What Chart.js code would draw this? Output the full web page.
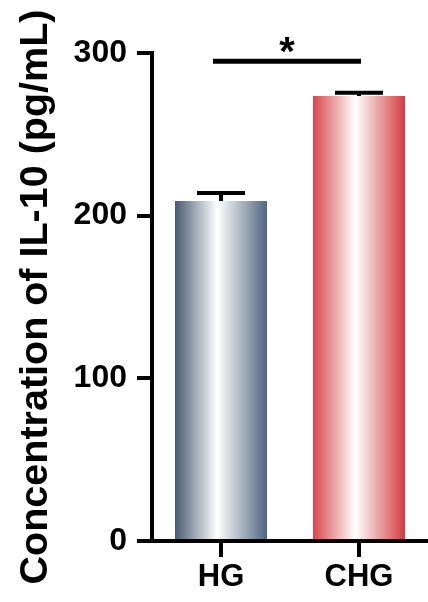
<!DOCTYPE html>
<html>
<head>
<meta charset="utf-8">
<script src="https://cdn.jsdelivr.net/npm/chart.js@4/dist/chart.umd.min.js"></script>
<style>
  body { margin: 0; background: #fff; }
</style>
</head>
<body>
<canvas id="il10" width="428" height="602"></canvas>
<script>
const groups = ['HG', 'CHG'];
const means = [209, 273.5];
const errors = [5, 2];
const yTicks = [0, 100, 200, 300];
const sigLevel = [295];

// couleurs des bords de chaque barre (le centre passe au blanc)
const edgeColors = [['#475a72', '#50667f'], ['#d8464a', '#d23c40']];
const barPct = 0.667;

function barGradient(ctx) {
    const chart = ctx.chart;
    if (!chart.chartArea) return edgeColors[ctx.dataIndex][0];
    const xs = chart.scales.x;
    const w = xs.width / groups.length * barPct;
    const cx = xs.getPixelForValue(ctx.dataIndex);
    const g = chart.ctx.createLinearGradient(cx - w / 2, 0, cx + w / 2, 0);
    const [c0, c1] = edgeColors[ctx.dataIndex];
    g.addColorStop(0, c0);
    g.addColorStop(0.46, '#ffffff');
    g.addColorStop(1, c1);
    return g;
}

// barres d'erreur + trait de significativité
const extras = {
    id: 'extras',
    afterDatasetsDraw(chart) {
        const { ctx, scales: { x, y } } = chart;
        ctx.save();
        ctx.strokeStyle = '#000';
        ctx.lineWidth = 4;
        ctx.lineCap = 'butt';
        means.forEach((m, i) => {
            const cx = x.getPixelForValue(i);
            const yb = y.getPixelForValue(m);
            const yt = y.getPixelForValue(m + errors[i]);
            ctx.beginPath();
            ctx.moveTo(cx, yb);
            ctx.lineTo(cx, yt);
            ctx.moveTo(cx - 24, yt);
            ctx.lineTo(cx + 24, yt);
            ctx.stroke();
        });

        const ys = y.getPixelForValue(sigLevel[0]);
        const x0 = x.getPixelForValue(0) - 8;
        const x1 = x.getPixelForValue(1) + 2;
        ctx.lineWidth = 5;
        ctx.beginPath();
        ctx.moveTo(x0, ys);
        ctx.lineTo(x1, ys);
        ctx.stroke();

        ctx.fillStyle = '#000';
        ctx.font = 'bold 40px "Liberation Sans", Arial, sans-serif';
        ctx.textAlign = 'center';
        ctx.textBaseline = 'alphabetic';
        ctx.fillText('*', (x0 + x1) / 2, ys + 4);

        // prolongement de l'axe X vers la gauche (style GraphPad)
        const y0 = y.getPixelForValue(0);
        ctx.lineWidth = 4;
        ctx.beginPath();
        ctx.moveTo(chart.chartArea.left - 15, y0);
        ctx.lineTo(chart.chartArea.left, y0);
        ctx.stroke();
        ctx.restore();
    }
};

new Chart(document.getElementById('il10'), {
    type: 'bar',
    data: {
        labels: groups,
        datasets: [{
            data: means,
            backgroundColor: barGradient,
            borderWidth: 0,
            barPercentage: barPct,
            categoryPercentage: 1
        }]
    },
    options: {
        responsive: false,
        animation: false,
        layout: { padding: { top: 53, right: 0, bottom: 0, left: 0 } },
        plugins: {
            legend: { display: false },
            tooltip: { enabled: false }
        },
        scales: {
            x: {
                afterFit: s => { s.height = 61; },
                border: { color: '#000', width: 4 },
                grid: {
                    offset: false,
                    drawOnChartArea: false,
                    tickLength: 16,
                    lineWidth: 4,
                    color: '#000'
                },
                ticks: {
                    color: '#000',
                    padding: 2,
                    font: { family: '"Liberation Sans", Arial, sans-serif', size: 31, weight: 'bold' }
                }
            },
            y: {
                min: 0,
                max: 300,
                afterFit: s => { s.width = 152; },
                afterBuildTicks: s => { s.ticks = yTicks.map(v => ({ value: v })); },
                border: { color: '#000', width: 4 },
                grid: {
                    drawOnChartArea: false,
                    tickLength: 15,
                    lineWidth: 4,
                    color: '#000'
                },
                ticks: {
                    color: '#000',
                    padding: 10,
                    font: { family: '"Liberation Sans", Arial, sans-serif', size: 32, weight: 'bold' }
                },
                title: {
                    display: true,
                    text: 'Concentration of IL-10 (pg/mL)',
                    color: '#000',
                    padding: { top: 12, bottom: 0 },
                    font: { family: '"Liberation Sans", Arial, sans-serif', size: 39.5, weight: 'bold' }
                }
            }
        }
    },
    plugins: [extras]
});
</script>
</body>
</html>
